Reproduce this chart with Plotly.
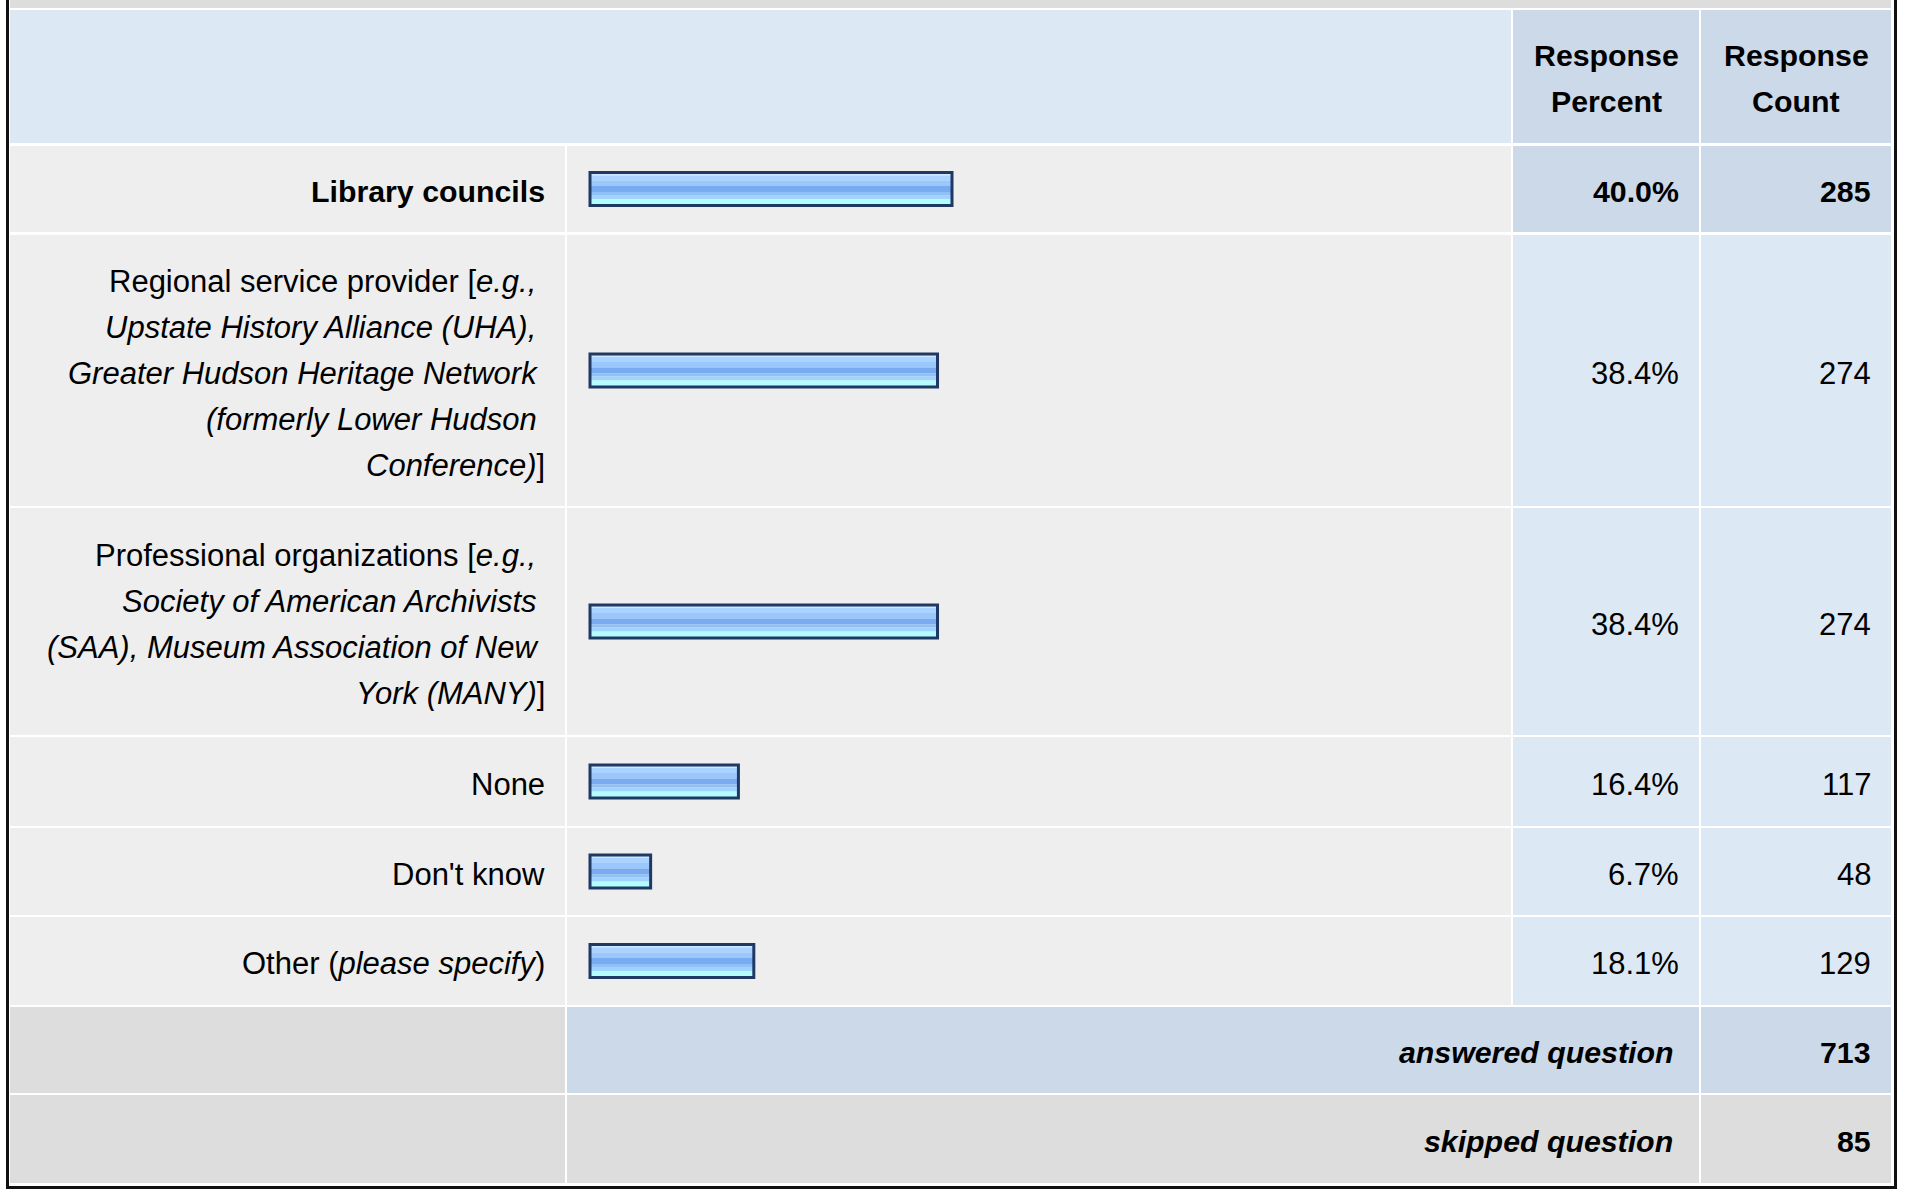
import plotly.graph_objects as go

# ---------------- data ----------------
answer_options = [
    "<b>Library councils</b>",
    "Regional service provider [<i>e.g.,</i>|<i>Upstate History Alliance (UHA),</i>|<i>Greater Hudson Heritage Network</i>|<i>(formerly Lower Hudson</i>|<i>Conference)</i>]",
    "Professional organizations [<i>e.g.,</i>|<i>Society of American Archivists</i>|<i>(SAA), Museum Association of New</i>|<i>York (MANY)</i>]",
    "None",
    "Don't know",
    "Other (<i>please specify</i>)",
]
response_percent = [40.0, 38.4, 38.4, 16.4, 6.7, 18.1]
response_count = [285, 274, 274, 117, 48, 129]
header_percent = "Response|Percent"
header_count = "Response|Count"
answered_label = "answered question"
answered_count = 713
skipped_label = "skipped question"
skipped_count = 85

# ---------------- layout geometry (pixels) ----------------
W, H = 1907, 1189
FONT = "Liberation Sans, Arial, Helvetica, sans-serif"
FS = 31
FS_B = 30.3
LINE = 46

col_label = (10, 565)
col_bar = (567, 1511)
col_pct = (1513, 1699)
col_cnt = (1701, 1891)
header_row = (10, 143)
row_tops = [146, 235, 508, 737, 828, 917]
row_bots = [232, 506, 735, 826, 915, 1005]
answered_row = (1007, 1093)
skipped_row = (1095, 1183)

C_GRAY = "#dddddd"
C_LIGHT = "#eeeeee"
C_BLUE = "#dde8f5"
C_BLUE2 = "#ccd9e8"

shapes = []
annotations = []


def rect(x0, x1, y0, y1, color):
    shapes.append(dict(type="rect", xref="x", yref="y", x0=x0, x1=x1, y0=y0, y1=y1,
                       fillcolor=color, line=dict(width=0), layer="below"))


def text_lines(s, x, yc, anchor, bold=False):
    lines = s.split("|")
    n = len(lines)
    for i, ln in enumerate(lines):
        t = ln
        if i < n - 1 and anchor == "right":
            t = t + "\u00a0"
        if bold:
            t = "<b>" + t + "</b>"
        y = yc + 2.5 + (i - (n - 1) / 2) * LINE
        size = FS_B if (bold or "<b>" in ln) else FS
        annotations.append(dict(x=x, y=y, xref="x", yref="y", text=t, showarrow=False,
                                xanchor=anchor, yanchor="middle", align=anchor,
                                font=dict(family=FONT, size=size, color="#000000")))


# top gray band
rect(10, 1891, 0, 8, C_GRAY)
# header
rect(col_label[0], col_bar[1], header_row[0], header_row[1], C_BLUE)
rect(col_pct[0], col_pct[1], header_row[0], header_row[1], C_BLUE2)
rect(col_cnt[0], col_cnt[1], header_row[0], header_row[1], C_BLUE2)
hc = (header_row[0] + header_row[1]) / 2
text_lines(header_percent, (col_pct[0] + col_pct[1]) / 2, hc - 0.5, "center", bold=True)
text_lines(header_count, (col_cnt[0] + col_cnt[1]) / 2, hc - 0.5, "center", bold=True)

centers = []
for i, (t, b) in enumerate(zip(row_tops, row_bots)):
    rect(col_label[0], col_label[1], t, b, C_LIGHT)
    rect(col_bar[0], col_bar[1], t, b, C_LIGHT)
    cc = C_BLUE2 if i == 0 else C_BLUE
    rect(col_pct[0], col_pct[1], t, b, cc)
    rect(col_cnt[0], col_cnt[1], t, b, cc)
    yc = (t + b) / 2
    centers.append(yc)
    text_lines(answer_options[i], 546.5, yc, "right")
    text_lines(f"{response_percent[i]:.1f}%", col_pct[1] - 18.5, yc, "right", bold=(i == 0))
    text_lines(f"{response_count[i]}", col_cnt[1] - 18, yc, "right", bold=(i == 0))

# answered / skipped rows
t, b = answered_row
rect(col_label[0], col_label[1], t, b, C_GRAY)
rect(col_bar[0], col_pct[1], t, b, C_BLUE2)
rect(col_cnt[0], col_cnt[1], t, b, C_BLUE2)
text_lines(f"<i>{answered_label}</i>", col_pct[1] - 24, (t + b) / 2, "right", bold=True)
text_lines(f"{answered_count}", col_cnt[1] - 18, (t + b) / 2, "right", bold=True)

t, b = skipped_row
rect(col_label[0], col_label[1], t, b, C_GRAY)
rect(col_bar[0], col_pct[1], t, b, C_GRAY)
rect(col_cnt[0], col_cnt[1], t, b, C_GRAY)
text_lines(f"<i>{skipped_label}</i>", col_pct[1] - 24, (t + b) / 2, "right", bold=True)
text_lines(f"{skipped_count}", col_cnt[1] - 18, (t + b) / 2, "right", bold=True)

# outer black frame
for x0, x1, y0, y1 in [(6, 9, 0, 1189), (1894, 1897, 0, 1189), (6, 1897, 1186, 1189)]:
    shapes.append(dict(type="rect", xref="x", yref="y", x0=x0, x1=x1, y0=y0, y1=y1,
                       fillcolor="#111111", line=dict(width=0), layer="above"))

# ---------------- bars (gradient bands + outline) ----------------
BAR_H = 33
bands = [
    (0.0, 3.0, "#cfe6ff"),
    (3.0, 8.0, "#aad3ff"),
    (8.0, 13.5, "#9ac8fd"),
    (13.5, 19.5, "#79abf0"),
    (19.5, 22.5, "#8fc0f8"),
    (22.5, 26.5, "#a2d3ff"),
    (26.5, 33.0, "#b2fdff"),
]
fig = go.Figure()
for a, bb, col in bands:
    fig.add_trace(go.Bar(
        x=response_percent, y=centers, orientation="h",
        width=[bb - a] * len(centers), offset=-BAR_H / 2 + a,
        marker=dict(color=col, line=dict(width=0)),
        xaxis="x2", yaxis="y", hoverinfo="skip", showlegend=False))
fig.add_trace(go.Bar(
    x=response_percent, y=centers, orientation="h",
    width=[BAR_H] * len(centers), offset=-BAR_H / 2,
    marker=dict(color="rgba(0,0,0,0)", line=dict(width=3, color="#1f3864")),
    xaxis="x2", yaxis="y", hoverinfo="skip", showlegend=False))

PX0 = 590.0
PPP = 9.05
fig.update_layout(
    width=W, height=H,
    margin=dict(l=0, r=0, t=0, b=0),
    paper_bgcolor="white", plot_bgcolor="rgba(0,0,0,0)",
    barmode="overlay",
    xaxis=dict(range=[0, W], domain=[0, 1], visible=False, fixedrange=True),
    xaxis2=dict(range=[-3, 100], domain=[(PX0 - 3 * PPP) / W, (PX0 + 100 * PPP) / W],
                anchor="y", visible=False, fixedrange=True),
    yaxis=dict(range=[H, 0], domain=[0, 1], visible=False, fixedrange=True),
    shapes=shapes,
    annotations=annotations,
    showlegend=False,
)
# invisible trace so the pixel axes exist
fig.add_trace(go.Scatter(x=[0, W], y=[0, H], mode="markers", marker=dict(opacity=0),
                         xaxis="x", yaxis="y", hoverinfo="skip", showlegend=False))

fig.write_html(
    "out.html",
    config={"displayModeBar": False},
    post_script="document.body.style.margin='0';document.body.style.overflow='hidden';",
)
